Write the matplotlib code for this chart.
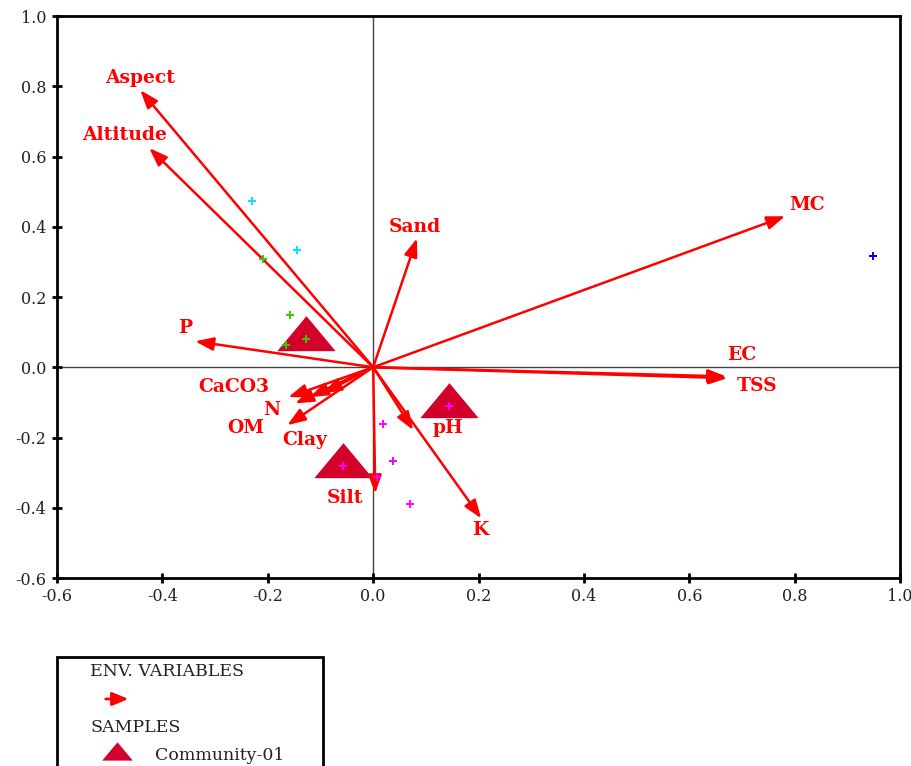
import matplotlib
matplotlib.use("Agg")
import matplotlib.pyplot as plt
from matplotlib.patches import Rectangle, FancyArrowPatch

# environmental variable arrows (biplot scores)
env_names = ["Aspect", "Altitude", "MC", "Sand", "P", "EC", "TSS",
             "CaCO3", "N", "OM", "Clay", "", "pH", "Silt", "K"]
env_x = [-0.442, -0.425, 0.782, 0.083, -0.338, 0.670, 0.672,
         -0.161, -0.148, -0.163, -0.120, -0.095, 0.076, 0.004, 0.205]
env_y = [0.789, 0.624, 0.430, 0.367, 0.074, -0.026, -0.031,
         -0.085, -0.103, -0.165, -0.085, -0.074, -0.179, -0.359, -0.430]

# sample scores, grouped by colour
cyan_x = [-0.230, -0.144]
cyan_y = [0.473, 0.333]
blue_x = [0.949]
blue_y = [0.316]
green_x = [-0.209, -0.157, -0.165, -0.127]
green_y = [0.308, 0.148, 0.063, 0.080]
magenta_x = [0.144, 0.019, 0.038, -0.057, 0.008, 0.070]
magenta_y = [-0.111, -0.162, -0.268, -0.282, -0.311, -0.390]

# community centroids
comm_x = [-0.127, 0.144, -0.057]
comm_y = [0.080, -0.111, -0.282]

xticks = [-0.6, -0.4, -0.2, 0.0, 0.2, 0.4, 0.6, 0.8, 1.0]
yticks = [-0.6, -0.4, -0.2, 0.0, 0.2, 0.4, 0.6, 0.8, 1.0]

# label offsets from arrow tips, in pixels
label_off = {
    "Aspect": (0, 12), "Altitude": (-25, 13), "MC": (22, 11), "Sand": (-2, 11),
    "P": (-10, 13), "EC": (16, 21), "TSS": (30, -8), "CaCO3": (-55, 10),
    "N": (-23, -7), "OM": (-42, -3), "Clay": (-5, -43), "pH": (35, 2),
    "Silt": (-30, -5), "K": (-1, -12),
}

RED = "#ff0000"
CRIMSON = "#d3002c"
SERIF = ["DejaVu Serif"]

fig = plt.figure(figsize=(9.11, 7.66), dpi=100)
ax = fig.add_axes([0.0626, 0.2454, 0.9254, 0.7337])
ax.set_xlim(-0.6, 1.0)
ax.set_ylim(-0.6, 1.0)

ax.axhline(0, color="#444444", lw=1.0, zorder=1)
ax.axvline(0, color="#444444", lw=1.0, zorder=1)

# triangles for community centroids (flattened, centred on centroid)
tri = [(-1, -0.4), (1, -0.4), (0, 0.8)]
ax.plot(comm_x, comm_y, linestyle="none", marker=tri, markersize=42,
        color=CRIMSON, markeredgewidth=0, zorder=2)

for xs, ys, c in [(cyan_x, cyan_y, "#00e5ff"), (blue_x, blue_y, "#0000ee"),
                  (green_x, green_y, "#33cc00"), (magenta_x, magenta_y, "#ff00ff")]:
    ax.plot(xs, ys, linestyle="none", marker="+", markersize=6,
            markeredgewidth=1.4, color=c, zorder=4)

for name, x, y in zip(env_names, env_x, env_y):
    ax.annotate("", xy=(x, y), xytext=(0, 0),
                arrowprops=dict(arrowstyle="-|>,head_length=0.55,head_width=0.2",
                                color=RED, lw=1.8, mutation_scale=20,
                                shrinkA=0, shrinkB=0),
                zorder=3)
    if name:
        dx, dy = label_off[name]
        ax.annotate(name, xy=(x, y), xytext=(dx, dy), textcoords="offset pixels",
                    ha="center", va="center", color=RED, fontsize=13.5,
                    fontweight="bold", family=SERIF, zorder=5)

ax.set_xticks(xticks)
ax.set_yticks(yticks)
ax.set_xticklabels([f"{t:.1f}" for t in xticks])
ax.set_yticklabels([f"{t:.1f}" for t in yticks])
ax.tick_params(direction="inout", length=7, width=2, labelsize=11.5,
               labelcolor="#222222", pad=4)
for lab in ax.get_xticklabels() + ax.get_yticklabels():
    lab.set_family(SERIF)
for sp in ax.spines.values():
    sp.set_linewidth(2)

# legend box (bottom cut by the figure edge)
fig.patches.append(Rectangle((0.0626, -0.05), 0.292, 0.1923, transform=fig.transFigure,
                             fill=False, edgecolor="black", lw=2))
fig.text(0.099, 0.123, "ENV. VARIABLES", family=SERIF, fontsize=12.5,
         color="#222222", va="center")
fig.patches.append(FancyArrowPatch((0.113, 0.0875), (0.144, 0.0875),
                                   transform=fig.transFigure,
                                   arrowstyle="-|>,head_length=0.6,head_width=0.25",
                                   mutation_scale=16, color=RED, lw=2))
fig.text(0.099, 0.050, "SAMPLES", family=SERIF, fontsize=12.5,
         color="#222222", va="center")
fig.lines.append(plt.Line2D([0.128], [0.016], transform=fig.transFigure,
                            marker=tri, markersize=22, color=CRIMSON,
                            markeredgewidth=0, linestyle="none"))
fig.text(0.170, 0.014, "Community-01", family=SERIF, fontsize=12.5,
         color="#222222", va="center")

fig.savefig("out.png", dpi=100)
